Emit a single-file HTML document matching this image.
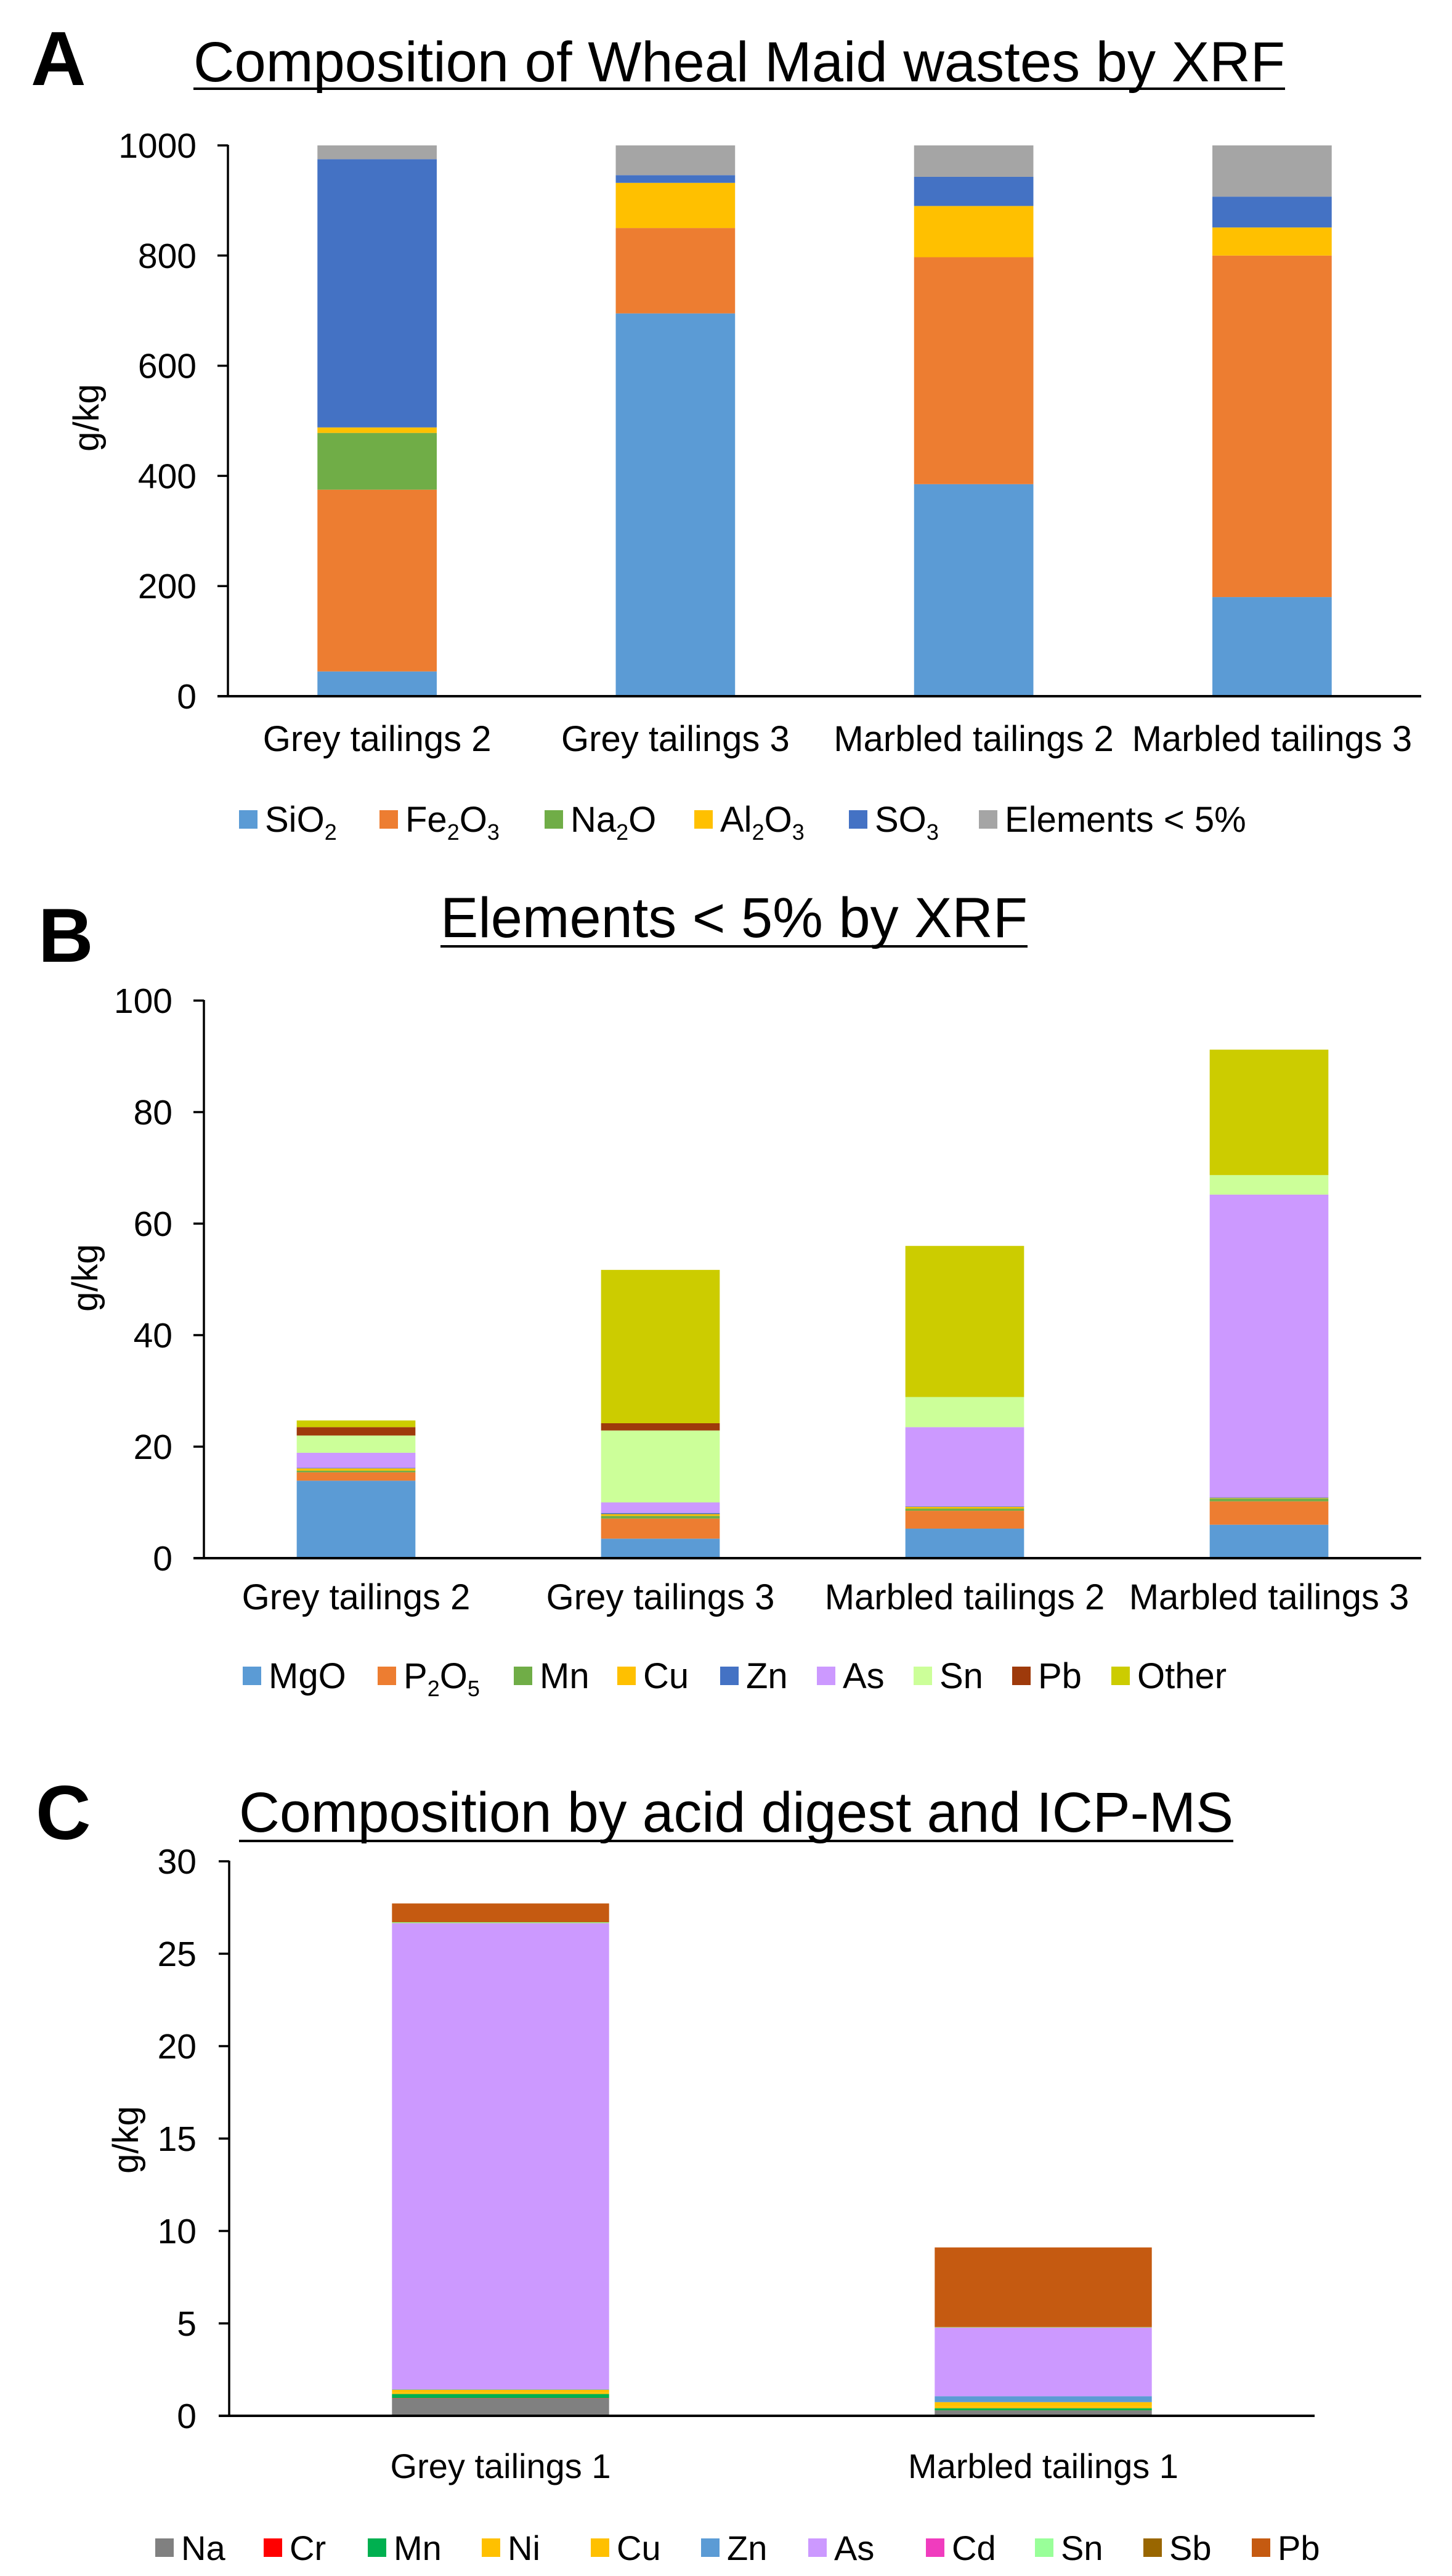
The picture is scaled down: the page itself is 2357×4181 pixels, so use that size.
<!DOCTYPE html>
<html><head><meta charset="utf-8">
<style>
html,body{margin:0;padding:0;background:#fff;}
svg{display:block;}
text{font-family:"Liberation Sans",Arial,sans-serif;fill:#000;}
</style></head>
<body>
<svg id="fig" width="2357" height="4181" viewBox="0 0 2357 4181" xmlns="http://www.w3.org/2000/svg"></svg>
<script>
// ---- Chart A data ----
const aCategories = ["Grey tailings 2","Grey tailings 3","Marbled tailings 2","Marbled tailings 3"];
const aSeriesNames = ["SiO2","Fe2O3","Na2O","Al2O3","SO3","Elements < 5%"];
const aSiO2 = [45,695,385,180];
const aFe2O3 = [330,155,412,620];
const aNa2O = [103,0,0,0];
const aAl2O3 = [10,82,93,51];
const aSO3 = [487,14,53,56];
const aElements = [25,54,57,93];
const aTicks = [0,200,400,600,800,1000];

// ---- Chart B data ----
const bCategories = ["Grey tailings 2","Grey tailings 3","Marbled tailings 2","Marbled tailings 3"];
const bSeriesNames = ["MgO","P2O5","Mn","Cu","Zn","As","Sn","Pb","Other"];
const bMgO = [13.9,3.5,5.3,6.0];
const bP2O5 = [1.5,3.6,3.2,4.2];
const bMn = [0.3,0.5,0.4,0.5];
const bCu = [0.4,0.3,0.3,0.1];
const bZn = [0.1,0.2,0.1,0.1];
const bAs = [2.7,1.9,14.2,54.3];
const bSn = [3.1,12.9,5.4,3.5];
const bPb = [1.5,1.3,0,0];
const bOther = [1.2,27.5,27.1,22.5];
const bTicks = [0,20,40,60,80,100];

// ---- Chart C data ----
const cCategories = ["Grey tailings 1","Marbled tailings 1"];
const cSeriesNames = ["Na","Cr","Mn","Ni","Cu","Zn","As","Cd","Sn","Sb","Pb"];
const cNa = [0.94,0.28];
const cCr = [0.02,0.01];
const cMn = [0.22,0.12];
const cNi = [0.08,0.1];
const cCu = [0.15,0.23];
const cZn = [0.03,0.32];
const cAs = [25.2,3.7];
const cCd = [0.01,0.01];
const cSn = [0.05,0.02];
const cSb = [0.02,0.02];
const cPb = [1.0,4.3];
const cTicks = [0,5,10,15,20,25,30];

const NS = "http://www.w3.org/2000/svg";
const svg = document.getElementById('fig');
function mk(tag, attrs, parent){
  const e = document.createElementNS(NS, tag);
  for (const k in attrs) e.setAttribute(k, attrs[k]);
  (parent||svg).appendChild(e);
  return e;
}
// label with subscripts: digits in chemical formulae become subscripts
function chemText(t, x, y, size, anchor, parent){
  const el = mk('text',{x:x,y:y,'font-size':size,'text-anchor':anchor||'start'},parent);
  const isChem = /^[A-Z][a-z]?\d/.test(t) || /O\d/.test(t);
  if(!isChem || t.indexOf('<')>=0){ el.textContent = t; return el; }
  const parts = t.match(/(\d+|\D+)/g);
  parts.forEach(p=>{
    const ts = mk('tspan',{},el);
    if(/^\d+$/.test(p)){ ts.setAttribute('font-size', size*0.62); ts.setAttribute('dy', size*0.22); }
    else if (el.childNodes.length>1){ ts.setAttribute('dy', -size*0.22); }
    ts.textContent = p;
  });
  return el;
}

function drawChart(cfg){
  const g = mk('g',{});
  
  
  // panel letter
  const L = mk('text',{x:cfg.letterX,y:cfg.letterY,'font-size':cfg.letterSize,'font-weight':'bold'},g);
  L.textContent = cfg.letter;
  
  
  // title
  const T = mk('text',{x:cfg.titleX1,y:cfg.titleY,'font-size':cfg.titleSize,textLength:cfg.titleX2-cfg.titleX1,lengthAdjust:'spacingAndGlyphs'},g);
  T.textContent = cfg.title;
  
  
  const U = mk('rect',{x:cfg.titleX1,y:cfg.underlineY,width:cfg.titleX2-cfg.titleX1,height:4,fill:'#000'},g);
  
  

  const x0 = cfg.axisX, x1 = cfg.axisEnd, yTop = cfg.yTop, yBot = cfg.yBot;
  const ymax = cfg.ticks[cfg.ticks.length-1];
  const yScale = v => yBot - (v/ymax)*(yBot-yTop);
  const band = (x1-x0)/cfg.categories.length;
  const xCenter = i => x0 + band*(i+0.5);
  const bw = band*cfg.barFrac;

  // bars
  cfg.categories.forEach((c,i)=>{
    let acc = 0;
    cfg.series.forEach((s,si)=>{
      const v = s[i];
      if(v<=0){ return; }
      const yA = yScale(acc), yB = yScale(acc+v);
      const r = mk('rect',{x:xCenter(i)-bw/2,y:yB,width:bw,height:yA-yB,fill:cfg.colors[si]},g);
      
      
      acc += v;
    });
  });
  // axes
  const ya = mk('line',{x1:x0,y1:yTop-1,x2:x0,y2:yBot,stroke:'#000','stroke-width':3.5},g);
  
  
  const xa = mk('line',{x1:x0-17,y1:yBot,x2:x1,y2:yBot,stroke:'#000','stroke-width':4},g);
  
  
  cfg.ticks.forEach(t=>{
    const y = yScale(t);
    const tk = mk('line',{x1:x0-17,y1:y,x2:x0,y2:y,stroke:'#000','stroke-width':3.5},g);
    
    
    const tl = mk('text',{x:cfg.tickLabelX,y:y+20,'font-size':57,'text-anchor':'end'},g);
    tl.textContent = String(t);
    
    
  });
  // y title
  const yt = mk('text',{x:0,y:0,'font-size':58,'text-anchor':'middle',transform:`translate(${cfg.yTitleX+20},${cfg.yTitleY}) rotate(-90)`},g);
  yt.textContent = 'g/kg';
  
  
  // category labels
  cfg.categories.forEach((c,i)=>{
    const cl = mk('text',{x:xCenter(i),y:cfg.catY,'font-size':cfg.catSize,'text-anchor':'middle'},g);
    cl.textContent = c;
    
    
  });
  // legend
  cfg.seriesNames.forEach((n,si)=>{
    const lx = cfg.legendX[si];
    const lg = mk('g',{},g);
    
    
    mk('rect',{x:lx,y:cfg.legendY-15,width:30,height:30,fill:cfg.colors[si]},lg);
    chemText(n, lx+42, cfg.legendY+20, cfg.legendSize, 'start', lg);
  });
}

drawChart({
  name:'chart-a', letter:'A', letterX:50, letterY:138, letterSize:124,
  title:'Composition of Wheal Maid wastes by XRF', titleX1:314, titleX2:2086, titleY:132, titleSize:92, underlineY:142,
  axisX:370, axisEnd:2307, yTop:236, yBot:1130, ticks:aTicks, tickLabelX:319,
  yTitleX:140, yTitleY:678,
  categories:aCategories, series:[aSiO2,aFe2O3,aNa2O,aAl2O3,aSO3,aElements], seriesNames:aSeriesNames,
  colors:['#5B9BD5','#ED7D31','#70AD47','#FFC000','#4472C4','#A5A5A5'],
  barFrac:0.40, catY:1219, catSize:58,
  legendX:[388,616,884,1127,1378,1589], legendY:1330, legendSize:58
});
drawChart({
  name:'chart-b', letter:'B', letterX:62, letterY:1561, letterSize:124,
  title:'Elements < 5% by XRF', titleX1:715, titleX2:1668, titleY:1521, titleSize:92, underlineY:1534,
  axisX:331, axisEnd:2307, yTop:1624, yBot:2529, ticks:bTicks, tickLabelX:280,
  yTitleX:138, yTitleY:2074,
  categories:bCategories, series:[bMgO,bP2O5,bMn,bCu,bZn,bAs,bSn,bPb,bOther], seriesNames:bSeriesNames,
  colors:['#5B9BD5','#ED7D31','#70AD47','#FFC000','#4472C4','#CC99FF','#CCFF99','#9E3A0B','#CCCC00'],
  barFrac:0.39, catY:2612, catSize:58,
  legendX:[394,613,834,1002,1169,1326,1483,1643,1804], legendY:2720, legendSize:58
});
drawChart({
  name:'chart-c', letter:'C', letterX:58, letterY:2985, letterSize:124,
  title:'Composition by acid digest and ICP-MS', titleX1:388, titleX2:2002, titleY:2973, titleSize:92, underlineY:2986,
  axisX:372, axisEnd:2134, yTop:3021, yBot:3921, ticks:cTicks, tickLabelX:319,
  yTitleX:204, yTitleY:3473,
  categories:cCategories, series:[cNa,cCr,cMn,cNi,cCu,cZn,cAs,cCd,cSn,cSb,cPb], seriesNames:cSeriesNames,
  colors:['#808080','#FF0000','#00B050','#FFC000','#FFC000','#5B9BD5','#CC99FF','#F03CBE','#99FF99','#996600','#C55A11'],
  barFrac:0.40, catY:4022, catSize:56,
  legendX:[252,428,597,782,959,1138,1312,1503,1680,1856,2032], legendY:4135, legendSize:56
});
</script>
</body></html>
